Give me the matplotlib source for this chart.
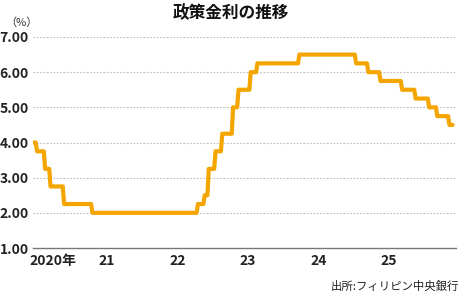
import matplotlib
matplotlib.use('Agg')
import matplotlib.pyplot as plt
import matplotlib.transforms as mtrans
import pandas as pd

# Policy rate change dates and levels (%)
change_dates = ['2020-01-20', '2020-02-06', '2020-03-19', '2020-04-16', '2020-06-25',
                '2020-11-19', '2022-05-19', '2022-06-23', '2022-07-14', '2022-08-18',
                '2022-09-22', '2022-11-17', '2022-12-15', '2023-02-16', '2023-03-23',
                '2023-10-26', '2024-08-15', '2024-10-16', '2024-12-19', '2025-04-10',
                '2025-06-19', '2025-08-28', '2025-10-09', '2025-12-11', '2025-12-31']
rates = [4.00, 3.75, 3.25, 2.75, 2.25,
         2.00, 2.25, 2.50, 3.25, 3.75,
         4.25, 5.00, 5.50, 6.00, 6.25,
         6.50, 6.25, 6.00, 5.75, 5.50,
         5.25, 5.00, 4.75, 4.50, 4.50]

year_ticks = ['2020-01-20', '2021-02-05', '2022-02-05', '2023-02-05', '2024-02-05', '2025-02-05']
year_labels = ['2020年', '21', '22', '23', '24', '25']
y_ticks = [1, 2, 3, 4, 5, 6, 7]

num_font = ['Liberation Sans Narrow', 'Noto Sans CJK JP', 'DejaVu Sans']
jp_font = ['Noto Sans CJK JP', 'DejaVu Sans']

daily = pd.Series(rates, index=pd.to_datetime(change_dates)).resample('D').ffill()
weekly = pd.concat([daily.iloc[::7], daily.iloc[-1:]])
weekly = weekly[~weekly.index.duplicated()]

fig = plt.figure(figsize=(4.65, 3.0), dpi=100)
ax = fig.add_axes([33 / 465, 52 / 300, 423 / 465, 211 / 300])

ax.plot(weekly.index, weekly.values, color='#F5A500', lw=3.0, zorder=3,
        solid_capstyle='round', solid_joinstyle='round')

ax.set_ylim(1, 7)
ax.set_xlim(pd.Timestamp('2020-01-20'), pd.Timestamp('2026-01-18'))

# dotted horizontal grid
for y in y_ticks[1:]:
    ax.axhline(y, color='#bdbdbd', lw=0.8, ls=(0, (1.5, 1.5)), zorder=1)

for side in ['left', 'right', 'top']:
    ax.spines[side].set_visible(False)
ax.spines['bottom'].set_color('#777777')
ax.spines['bottom'].set_linewidth(1.0)

ax.set_yticks(y_ticks)
ax.set_yticklabels(['%.2f' % v for v in y_ticks], family=num_font,
                   fontweight='bold', fontsize=10, color='#222222')
ax.set_xticks(pd.to_datetime(year_ticks))
ax.set_xticklabels(year_labels, family=num_font, fontweight='bold',
                   fontsize=10, color='#222222')
ax.tick_params(axis='both', length=0)
ax.tick_params(axis='y', pad=3)
ax.tick_params(axis='x', pad=4)

first = ax.get_xticklabels()[0]
first.set_ha('left')
first.set_transform(first.get_transform() +
                    mtrans.ScaledTranslation(-4 / 100, 0, fig.dpi_scale_trans))

fig.text(0.497, 0.955, '政策金利の推移', ha='center', va='center',
         family=jp_font, fontweight='bold', fontsize=12, color='#111111')
fig.text(5 / 465, 1 - 23 / 300, '（%）', ha='left', va='center',
         family=jp_font, fontsize=8, color='#333333')
fig.text(459 / 465, 1 - 286 / 300, '出所:フィリピン中央銀行', ha='right', va='center',
         family=jp_font, fontsize=8.2, color='#222222')

fig.savefig('out.png', dpi=100)
